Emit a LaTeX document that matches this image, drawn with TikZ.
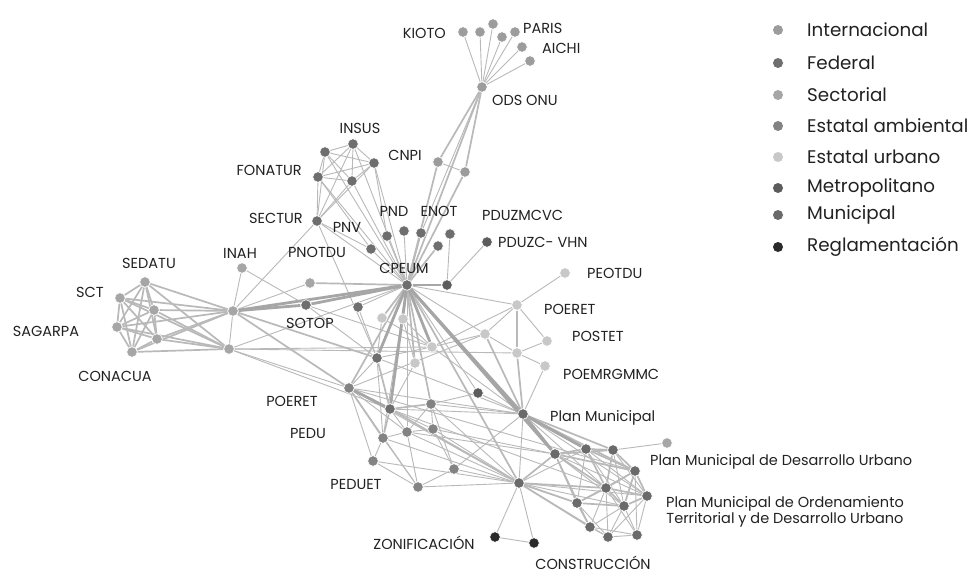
\documentclass[tikz,border=0pt]{standalone}
\usepackage{fontspec}
\setmainfont{Poppins}
\usetikzlibrary{backgrounds}
\definecolor{cintl}{HTML}{9C9C9C}
\definecolor{cfed}{HTML}{6E6E6E}
\definecolor{csect}{HTML}{A6A6A6}
\definecolor{ceamb}{HTML}{838383}
\definecolor{ceurb}{HTML}{C8C8C8}
\definecolor{cmetro}{HTML}{5C5C5C}
\definecolor{cmun}{HTML}{6A6A6A}
\definecolor{cregl}{HTML}{2A2A2A}
\definecolor{cedge}{HTML}{B9B9B9}
\definecolor{ctext}{HTML}{222222}
\tikzset{
  nd/.style={circle, inner sep=0pt, minimum size=10.5pt, draw=white, line width=0.6pt},
  intl/.style={nd, fill=cintl}, fed/.style={nd, fill=cfed}, sect/.style={nd, fill=csect},
  eamb/.style={nd, fill=ceamb}, eurb/.style={nd, fill=ceurb}, metro/.style={nd, fill=cmetro},
  mun/.style={nd, fill=cmun}, regl/.style={nd, fill=cregl},
  ln/.style={draw=cedge, line width=0.9pt},
  lm/.style={draw=cedge, line width=1.7pt},
  lt/.style={draw=cedge!90!black, line width=2.8pt},
  lbl/.style={text=ctext, inner sep=0pt, font=\fontsize{14.5}{16}\selectfont},
  lbm/.style={text=ctext, inner sep=0pt, font=\fontsize{14.5}{16}\selectfont},
  leg/.style={text=ctext, inner sep=0pt, anchor=west, font=\fontsize{18.3}{20}\selectfont},
}
\begin{document}
\begin{tikzpicture}[x=1pt,y=-1pt]
\useasboundingbox (0,0) rectangle (978,573);
% international
\node[intl] (k1) at (463,32) {}; \node[intl] (k2) at (480,32) {}; \node[intl] (k3) at (493,24) {};
\node[intl] (k4) at (502,37) {}; \node[intl] (k5) at (515,32) {}; \node[intl] (k6) at (522,47) {};
\node[intl] (k7) at (530,61) {}; \node[intl] (ods) at (482,87) {};
\node[intl] (cn1) at (438,162) {}; \node[intl] (cn2) at (465,172) {};
% federal
\node[fed] (ins) at (353,144) {}; \node[fed] (f2) at (325,152) {}; \node[fed] (f3) at (374,163) {};
\node[fed] (fon) at (318,177) {}; \node[fed] (f5) at (352,181) {}; \node[fed] (sec) at (317,221) {};
\node[fed] (p1) at (387,236) {}; \node[fed] (p2) at (404,231) {}; \node[fed] (p3) at (421,233) {};
\node[fed] (p4) at (450,234) {}; \node[fed] (p5) at (371,249) {}; \node[fed] (p6) at (438,246) {};
\node[fed] (cpeum) at (407,285) {};
\node[metro] (m1) at (447,285) {}; \node[metro] (pduzc) at (487,242) {};
\node[fed] (sotop) at (306,305) {}; \node[fed] (s12) at (358,307) {};
% sectorial
\node[sect] (sedatu) at (145,282) {}; \node[sect] (sct) at (120,298) {}; \node[sect] (s3) at (154,310) {};
\node[sect] (sag) at (117,327) {}; \node[sect] (s5) at (157,339) {}; \node[sect] (cona) at (132,352) {};
\node[sect] (h1) at (233,311) {}; \node[sect] (h2) at (229,349) {};
\node[sect] (inah) at (242,268) {}; \node[sect] (s10) at (310,283) {};
% estatal urbano
\node[eurb] (e1) at (382,318) {}; \node[eurb] (e2) at (403,319) {}; \node[eurb] (e3) at (432,347) {};
\node[eurb] (e4) at (415,363) {}; \node[eurb] (e5) at (485,334) {}; \node[eurb] (poeret) at (517,305) {};
\node[eurb] (postet) at (547,341) {}; \node[eurb] (e8) at (517,353) {}; \node[eurb] (poem) at (545,366) {};
\node[eurb] (peotdu) at (565,273) {};
% estatal ambiental / others
\node[fed] (d1) at (377,358) {}; \node[eamb] (d2) at (349,388) {}; \node[fed] (d3) at (390,409) {};
\node[eamb] (d4) at (431,404) {}; \node[eamb] (d5) at (383,438) {}; \node[eamb] (d6) at (407,432) {};
\node[eamb] (d7) at (433,429) {}; \node[eamb] (d8) at (373,461) {}; \node[eamb] (d9) at (454,469) {};
\node[eamb] (peduet) at (418,487) {}; \node[metro] (d11) at (478,393) {};
% municipal
\node[mun] (pm) at (523,414) {}; \node[mun] (hb) at (519,483) {};
\node[mun] (c1) at (555,454) {}; \node[mun] (c2) at (586,449) {}; \node[mun] (c3) at (613,450) {};
\node[mun] (c4) at (635,471) {}; \node[mun] (c5) at (606,488) {}; \node[mun] (c6) at (647,496) {};
\node[mun] (c7) at (577,503) {}; \node[mun] (c8) at (624,506) {}; \node[mun] (c9) at (590,527) {};
\node[mun] (c10) at (608,537) {}; \node[mun] (c11) at (637,535) {};
\node[sect] (pmdu) at (667,443) {};
\node[regl] (zon) at (495,537) {}; \node[regl] (con) at (534,543) {};

\begin{scope}[on background layer]
\fill[white] (0,0) rectangle (978,573);
\foreach \a/\b in {ods/k1,ods/k2,ods/k3,ods/k4,ods/k5,ods/k6,ods/k7,ods/p3,cn1/cn2,
  ins/f2,ins/f3,ins/fon,ins/f5,ins/sec,f2/f3,f2/fon,f2/f5,f2/sec,f3/fon,f3/f5,f3/sec,fon/f5,fon/sec,f5/sec,
  ins/cpeum,f2/cpeum,f3/cpeum,fon/cpeum,f5/cpeum,sec/cpeum,fon/p5,sec/p5,f3/p1,sec/h1,sec/d1,
  p1/cpeum,p2/cpeum,p4/m1,p5/cpeum,pduzc/m1,cpeum/poeret,peotdu/poeret,
  h1/h2,inah/h1,inah/sotop,h1/s10,h2/e3,h2/d2,h2/d3,h2/e8,h2/cpeum,sotop/d1,s12/cpeum,s12/d1,sotop/e3,
  cpeum/d5,cpeum/d6,cpeum/d11,cpeum/e5,
  poeret/e5,poeret/postet,poeret/e3,e5/e3,e5/e8,e8/poem,postet/e8,poem/pm,e5/d2,e3/d1,e3/e2,e1/d1,e2/e4,e4/d3,e3/pm,e1/e3,
  d1/d2,d1/d5,d2/d8,d2/d6,d2/peduet,d2/pm,d2/hb,d3/d6,d3/d7,d3/pm,d4/d7,d4/d6,d4/d9,d4/pm,d4/d11,
  d5/d6,d5/d8,d5/peduet,d6/d7,d6/peduet,d6/hb,d7/d9,d7/hb,d8/peduet,d8/hb,d9/peduet,d9/hb,d9/pm,peduet/hb,
  d11/pm,d3/c5,d5/c7,d2/c4,d6/c1,d7/c1,d4/hb,d1/pm,
  pm/hb,pm/c5,pm/c6,hb/c10,hb/c8,hb/c6,hb/c2,hb/zon,hb/con,zon/con,c3/pmdu,
  c1/c6,c1/c8,c1/c9,c2/c6,c2/c7,c2/c8,c3/c6,c3/c8,
  c4/c7,c4/c11,c5/c9,c5/c10,c5/c11,c6/c11,c6/c10,c7/c10,
  c8/c9,c8/c10,c8/c11,c9/c10,c10/c11,c9/c11}
  \draw[ln] (\a) -- (\b);
\foreach \a/\b in {ods/cn1,ods/cn2,ods/cpeum,cn1/cpeum,cn2/cpeum,p3/cpeum,p6/cpeum,
  sedatu/sct,sedatu/s3,sedatu/sag,sedatu/s5,sedatu/cona,sct/s3,sct/sag,sct/s5,sct/cona,s3/sag,s3/s5,s3/cona,sag/s5,sag/cona,s5/cona,
  sedatu/h1,sct/h1,s3/h1,sag/h1,s5/h1,cona/h1,sedatu/h2,sct/h2,s3/h2,sag/h2,s5/h2,cona/h2,
  h1/d1,h1/d2,s10/cpeum,cpeum/e1,cpeum/e2,cpeum/e4,cpeum/d2,cpeum/d4,cpeum/hb,
  poeret/e8,e5/pm,e8/pm,d1/d3,d2/d5,d3/d4,d3/d5,d3/hb,pm/c3,pm/c4,
  hb/c1,hb/c5,hb/c7,hb/c9,
  c1/c2,c1/c3,c1/c4,c1/c5,c1/c7,c2/c3,c2/c4,c2/c5,c3/c4,c3/c5,c4/c5,c4/c6,c4/c8,c5/c6,c5/c7,c5/c8,c6/c8,c7/c8,c7/c9}
  \draw[lm] (\a) -- (\b);
\foreach \a/\b in {m1/cpeum,h1/sotop,h1/cpeum,sotop/cpeum,cpeum/e3,cpeum/d1,cpeum/d3,cpeum/pm,cpeum/c1,
  d2/d3,pm/c1,pm/c2}
  \draw[lt] (\a) -- (\b);
\end{scope}

% labels
\node[lbl, anchor=east] (lkioto) at (446,33) {KIOTO};
\node[lbl, anchor=west] (lparis) at (523,28) {PARIS};
\node[lbl, anchor=west] (laichi) at (542,48) {AICHI};
\node[lbl, anchor=west] (lods) at (492,100) {ODS ONU};
\node[lbl] (linsus) at (360,128) {INSUS};
\node[lbl] (lcnpi) at (405,155) {CNPI};
\node[lbl, anchor=east] (lfon) at (302,170) {FONATUR};
\node[lbl, anchor=east] (lsec) at (303,218) {SECTUR};
\node[lbl] (lpnv) at (347,227) {PNV};
\node[lbl] (lpnd) at (394,211) {PND};
\node[lbl] (lenot) at (439,211) {ENOT};
\node[lbl, anchor=west] (lpduzm) at (482,215) {PDUZMCVC};
\node[lbl, anchor=west] (lpduzc) at (498,242) {PDUZC- VHN};
\node[lbl] (lpnotdu) at (317,252) {PNOTDU};
\node[lbl] (linah) at (240,253) {INAH};
\node[lbl] (lcpeum) at (404,268) {CPEUM};
\node[lbl] (lsedatu) at (149,263) {SEDATU};
\node[lbl] (lsct) at (90,292) {SCT};
\node[lbl] (lsag) at (46,331) {SAGARPA};
\node[lbl] (lcona) at (115,376) {CONACUA};
\node[lbl] (lsotop) at (310,323) {SOTOP};
\node[lbl] (lpoeret1) at (292,401) {POERET};
\node[lbl] (lpedu) at (308,433) {PEDU};
\node[lbl] (lpeduet) at (356,484) {PEDUET};
\node[lbl] (lzon) at (424,543) {ZONIFICACIÓN};
\node[lbl] (lcon) at (593,563) {CONSTRUCCIÓN};
\node[lbl, anchor=west] (lpeotdu) at (587,273) {PEOTDU};
\node[lbl, anchor=west] (lpoeret2) at (544,309) {POERET};
\node[lbl, anchor=west] (lpostet) at (572,336) {POSTET};
\node[lbl, anchor=west] (lpoem) at (563,374) {POEMRGMMC};
\node[lbm, anchor=west] (lpm) at (550,418) {Plan Municipal};
\node[lbm, anchor=west] (lpmdu) at (650,462) {Plan Municipal de Desarrollo Urbano};
\node[lbm, align=center] (lpmot) at (785,512) {Plan Municipal de Ordenamiento\\Territorial y de Desarrollo Urbano};

% legend
\foreach \c/\t/\y [count=\i] in {cintl/Internacional/30, cfed/Federal/63, csect/Sectorial/95,
  ceamb/Estatal ambiental/126, ceurb/Estatal urbano/157, cmetro/Metropolitano/188,
  cmun/Municipal/215, cregl/Reglamentación/247}{
  \node[circle, inner sep=0pt, minimum size=10pt, fill=\c] (legdot\i) at (778,\y) {};
  \node[leg] (legtxt\i) at (807,\y) {\t};
}
\end{tikzpicture}
\end{document}
